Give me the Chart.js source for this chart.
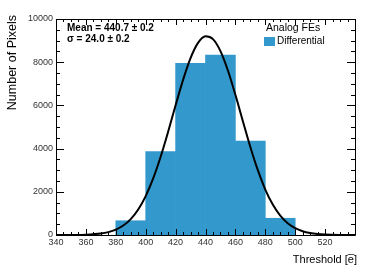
<!DOCTYPE html>
<html><head><meta charset="utf-8">
<script src="https://cdn.jsdelivr.net/npm/chart.js@4/dist/chart.umd.min.js"></script>
<style>html,body{margin:0;padding:0;background:#fff}</style>
</head><body>
<canvas id="c" width="374" height="269"></canvas>
<script>
// ---- data ----
const binCenters = [390, 410, 430, 450, 470, 490];
const binCounts  = [660, 3860, 7950, 8330, 4350, 775];
const fitX = [340,350,360,370,375,380,385,390,395,400,405,410,415,420,425,430,435,440,445,450,455,460,465,470,475,480,485,490,495,500,505,510,515,520,530,540];
const fitY = [0,3,16,69,134,249,439,738,1182,1802,2619,3625,4779,6004,7184,8190,8894,9200,9068,8514,7615,6489,5266,4073,3000,2105,1407,896,543,314,173,91,45,22,4,0];
const xTicks = [340,360,380,400,420,440,460,480,500,520];
const yTicks = [0,2000,4000,6000,8000,10000];
const meanLabel = "Mean = 440.7 \u00b1 0.2";
const sigmaLabel = "\u03c3 = 24.0 \u00b1 0.2";
const legendTitle = "Analog FEs";
const seriesName = "Differential";
const xTitle = "Threshold [e\u0305]";
const yTitle = "Number of Pixels";

const FONT = "'Liberation Sans', Arial, Helvetica, sans-serif";
const BAR_COLOR = '#3399cc';

const frame = {
  id: 'frame',
  afterDatasetsDraw(chart) {
    const ctx = chart.ctx, a = chart.chartArea;
    const xs = chart.scales.x, ys = chart.scales.y;
    ctx.save();
    ctx.strokeStyle = '#000';
    ctx.lineWidth = 1;
    ctx.beginPath();
    ctx.rect(Math.round(a.left) + 0.5, Math.round(a.top) + 0.5, Math.round(a.right - a.left), Math.round(a.bottom - a.top));
    ctx.stroke();
    ctx.beginPath();
    for (let v = xs.min; v <= xs.max; v += 5) {
      const px = Math.round(xs.getPixelForValue(v)) + 0.5;
      const len = (v % 20 === 0) ? 6 : 3;
      ctx.moveTo(px, a.bottom); ctx.lineTo(px, a.bottom - len);
      ctx.moveTo(px, a.top); ctx.lineTo(px, a.top + len);
    }
    for (let v = ys.min; v <= ys.max; v += 500) {
      const py = Math.round(ys.getPixelForValue(v)) + 0.5;
      const len = (v % 2000 === 0) ? 8 : 4;
      ctx.moveTo(a.left, py); ctx.lineTo(a.left + len, py);
      ctx.moveTo(a.right, py); ctx.lineTo(a.right - len, py);
    }
    ctx.stroke();

    ctx.fillStyle = '#000';
    ctx.font = '11px ' + FONT;
    ctx.textAlign = 'right'; ctx.textBaseline = 'alphabetic';
    ctx.fillText(xTitle, a.right + 2, 263);
    ctx.save();
    ctx.translate(16, a.top - 4);
    ctx.rotate(-Math.PI / 2);
    ctx.font = '12.5px ' + FONT;
    ctx.textAlign = 'right';
    ctx.fillText(yTitle, 0, 0);
    ctx.restore();

    ctx.font = 'bold 10px ' + FONT;
    ctx.textAlign = 'left'; ctx.textBaseline = 'middle';
    ctx.fillText(meanLabel, 67, 28);
    ctx.fillText(sigmaLabel, 67, 39);

    ctx.font = '10.5px ' + FONT;
    ctx.fillText(legendTitle, 266, 28);
    ctx.fillStyle = chart.data.datasets[1].backgroundColor;
    ctx.fillRect(264, 37, 11, 9);
    ctx.fillStyle = '#000';
    ctx.font = '10px ' + FONT;
    ctx.fillText(seriesName, 277, 41);
    ctx.restore();
  }
};

new Chart(document.getElementById('c'), {
  type: 'bar',
  data: {
    datasets: [
      {
        type: 'line',
        label: 'Fit',
        data: fitX.map((x, i) => ({x, y: fitY[i]})),
        borderColor: '#000',
        borderWidth: 2,
        pointRadius: 0,
        cubicInterpolationMode: 'monotone',
        fill: false,
        order: 0
      },
      {
        type: 'bar',
        label: seriesName,
        data: binCenters.map((x, i) => ({x, y: binCounts[i]})),
        backgroundColor: BAR_COLOR,
        borderWidth: 0,
        barPercentage: 1.0,
        categoryPercentage: 1.0,
        order: 1
      }
    ]
  },
  options: {
    responsive: false,
    devicePixelRatio: 1,
    animation: false,
    layout: { padding: { left: 0, right: 19, top: 19, bottom: 0 } },
    plugins: { legend: { display: false }, tooltip: { enabled: false } },
    scales: {
      x: {
        type: 'linear', min: 340, max: 540, offset: false,
        grid: { display: false, drawTicks: false },
        border: { display: false },
        afterFit: s => { s.height = 34; },
        afterBuildTicks: s => { s.ticks = xTicks.map(v => ({value: v})); },
        ticks: { padding: 2, color: '#333', font: { family: FONT, size: 9 }, maxRotation: 0, autoSkip: false,
                 callback: v => String(v) }
      },
      y: {
        type: 'linear', min: 0, max: 10000,
        grid: { display: false, drawTicks: false },
        border: { display: false },
        afterFit: s => { s.width = 56; },
        afterBuildTicks: s => { s.ticks = yTicks.map(v => ({value: v})); },
        ticks: { padding: 3, color: '#333', font: { family: FONT, size: 9 }, callback: v => String(v) }
      }
    }
  },
  plugins: [frame]
});
</script>
</body></html>
